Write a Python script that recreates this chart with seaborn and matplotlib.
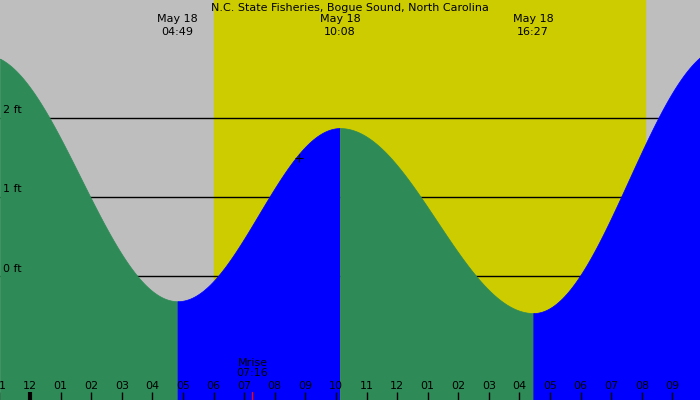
import numpy as np
import pandas as pd
import matplotlib
matplotlib.use("Agg")
import matplotlib.pyplot as plt
import matplotlib.transforms as mtransforms
import seaborn as sns

sns.set_theme(style="white")
plt.rcParams['font.family'] = ['DejaVu Sans']
plt.rcParams['text.color'] = 'black'

# Tide extremes (hours from midnight May 18, height ft)
ext_hours = [-1.5, 4.82, 10.13, 16.45, 22.7]
ext_heights = [2.80, -0.32, 1.87, -0.47, 2.90]
label_hours = [4.82, 10.13, 16.45]
label_dates = ["May 18", "May 18", "May 18"]
label_times = ["04:49", "10:08", "16:27"]
sunrise, sunset = 6.03, 20.1
moonrise, moonrise_label = 7.27, "Mrise\n07:16"
tick_hours = list(range(-1, 22))
tick_labels = ["11", "12", "01", "02", "03", "04", "05", "06", "07", "08", "09", "10",
               "11", "12", "01", "02", "03", "04", "05", "06", "07", "08", "09"]
levels = [0, 1, 2]

x0, x1 = -0.98, 21.9
y0, y1 = -1.57, 3.49

# cosine interpolation between extremes
t = np.linspace(x0, x1, 1500)
h = np.empty_like(t)
for i in range(len(ext_hours) - 1):
    a, b = ext_hours[i], ext_hours[i + 1]
    m = (t >= a) & (t <= b)
    f = (1 - np.cos(np.pi * (t[m] - a) / (b - a))) / 2
    h[m] = ext_heights[i] + (ext_heights[i + 1] - ext_heights[i]) * f
df = pd.DataFrame({"hour": t, "height": h})

fig = plt.figure(figsize=(7, 4), dpi=100)
ax = fig.add_axes([0, 0, 1, 1])
ax.set_facecolor("#BEBEBE")
ax.axvspan(sunrise, sunset, color="#CCCC00", zorder=0)
for lv in levels:
    ax.axhline(lv, color="black", lw=1, zorder=1)
    ax.text(x0 + 0.1, lv + 0.03, f"{lv} ft", fontsize=8, va="bottom", ha="left",
            color="black", zorder=5)

for i in range(len(ext_hours) - 1):
    a, b = ext_hours[i], ext_hours[i + 1]
    m = (df.hour >= a) & (df.hour <= b)
    col = "#2E8B57" if ext_heights[i + 1] < ext_heights[i] else "#0000FF"
    ax.fill_between(df.hour[m], y0, df.height[m], color=col, lw=0.5, ec=col, zorder=2)
sns.lineplot(data=df, x="hour", y="height", ax=ax, lw=0, legend=False)

trans = mtransforms.blended_transform_factory(ax.transData, ax.transAxes)
ax.text(0.5, 0.98, "N.C. State Fisheries, Bogue Sound, North Carolina", transform=ax.transAxes,
        ha="center", va="center", fontsize=8, color="black", zorder=5)
for hr, d, tm in zip(label_hours, label_dates, label_times):
    ax.text(hr, 0.952, d, transform=trans, ha="center", va="center", fontsize=8, color="black", zorder=5)
    ax.text(hr, 0.92, tm, transform=trans, ha="center", va="center", fontsize=8, color="black", zorder=5)

for hr, lb in zip(tick_hours, tick_labels):
    ax.text(hr, 0.036, lb, transform=trans, ha="center", va="center", fontsize=8,
            color="black", zorder=5, clip_on=False)
    ax.plot([hr, hr], [0, 0.02], transform=trans, color="black", lw=3 if hr == 0 else 1,
            zorder=5, solid_capstyle="butt")
ax.plot([moonrise, moonrise], [0, 0.02], transform=trans, color="red", lw=1, zorder=5)
ax.text(moonrise, 0.08, moonrise_label, transform=trans, ha="center", va="center",
        fontsize=8, color="black", zorder=5, linespacing=0.9)
ax.plot([8.8], [1.49], marker="+", color="black", ms=6, mew=0.8, zorder=5)

ax.set_xlim(x0, x1)
ax.set_ylim(y0, y1)
ax.set_xticks([]); ax.set_yticks([])
ax.set_xlabel(""); ax.set_ylabel("")
for s in ax.spines.values():
    s.set_visible(False)
fig.savefig("out.png", dpi=100)
